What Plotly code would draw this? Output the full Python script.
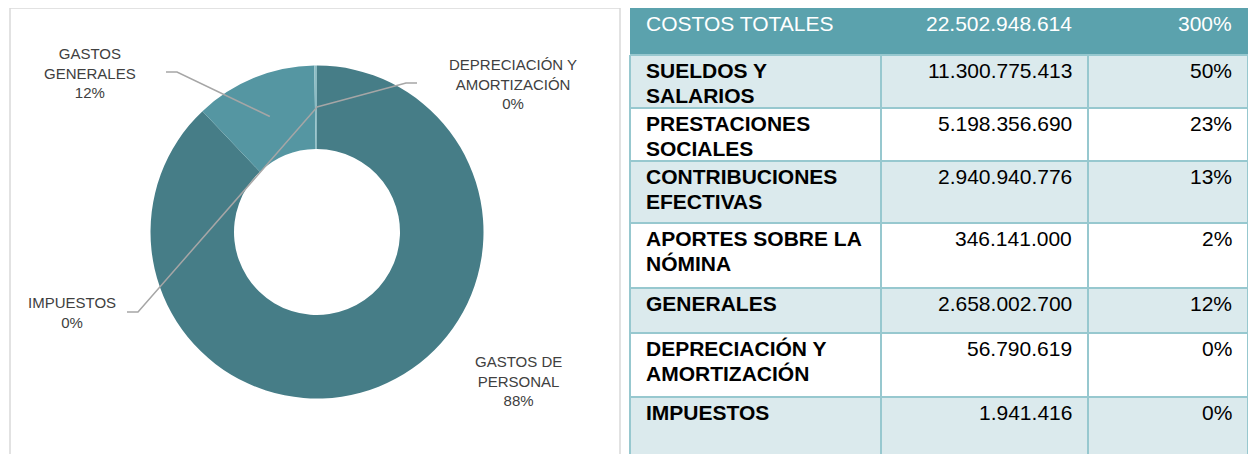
import math
import plotly.graph_objects as go

# ---------------- data ----------------
table_labels = ["SUELDOS Y<br>SALARIOS", "PRESTACIONES<br>SOCIALES", "CONTRIBUCIONES<br>EFECTIVAS",
                "APORTES SOBRE LA<br>NÓMINA", "GENERALES", "DEPRECIACIÓN Y<br>AMORTIZACIÓN", "IMPUESTOS"]
table_values = [11300775413, 5198356690, 2940940776, 346141000, 2658002700, 56790619, 1941416]
header_label = "COSTOS TOTALES"
header_pct = "300%"

pie_labels = ["GASTOS DE<br>PERSONAL", "GASTOS<br>GENERALES", "DEPRECIACIÓN Y<br>AMORTIZACIÓN", "IMPUESTOS"]
pie_values = [sum(table_values[:4]), table_values[4], table_values[5], table_values[6]]

# ---------------- style / layout ----------------
W, H = 1256, 454
OFF = 8  # default page body margin
FW, FH = W - OFF, H - OFF
FONT = "Liberation Sans, Arial, sans-serif"
pie_colors = ["#467d87", "#5596a2", "#8dbdc5", "#3d7079"]
label_centers = [(518, 381), (90, 73), (513, 84), (72, 312)]
label_elbows = [None, ((166, 72), (177, 72)), ((417, 83), (406, 83)), ((127, 312), (138, 312))]
cx, cy, R_out, R_in = 317, 232, 166.5, 83

col_x = [630, 881, 1088, 1248]
row_h = [47, 53, 53, 62, 65, 45, 64, 66]
top = 8
hdr_bg = "#5ba2ad"
light_bg = "#dbeaed"
border = "#97c8cf"
TFS = 21      # table font size
PITCH = 25    # table line pitch


def px(x):
    return (x - OFF) / FW


def py(y):
    return 1 - (y - OFF) / FH


def fmt(v):
    return f"{v:,}".replace(",", ".")


total = sum(table_values)

fig = go.Figure()
fig.add_trace(go.Pie(
    labels=[l.replace("<br>", " ") for l in pie_labels], values=pie_values,
    hole=R_in / R_out, sort=False, direction="clockwise", rotation=0,
    textinfo="none", showlegend=False,
    marker=dict(colors=pie_colors, line=dict(width=0)),
    domain=dict(x=[px(cx - R_out), px(cx + R_out)], y=[py(cy + R_out), py(cy - R_out)]),
))

shapes = []
annotations = []

# chart box
shapes.append(dict(type="rect", xref="paper", yref="paper", x0=px(10), x1=px(620), y0=py(470), y1=py(8),
                   line=dict(color="#d9d9d9", width=1.5), fillcolor="rgba(0,0,0,0)", layer="below"))

# pie labels + leader lines
pie_total = sum(pie_values)
cum = 0
r_mid = (R_out + R_in) / 2
for i, (lab, val) in enumerate(zip(pie_labels, pie_values)):
    frac_mid = (cum + val / 2) / pie_total
    cum += val
    pct = round(val / pie_total * 100)
    lx, ly = label_centers[i]
    annotations.append(dict(x=px(lx), y=py(ly), xref="paper", yref="paper", showarrow=False,
                            text=f"{lab}<br>{pct}%", align="center", xanchor="center", yanchor="middle",
                            font=dict(family=FONT, size=15, color="#404040")))
    if label_elbows[i] is not None:
        th = 2 * math.pi * frac_mid
        ax = cx + r_mid * math.sin(th)
        ay = cy - r_mid * math.cos(th)
        (x0, y0), (x1, y1) = label_elbows[i]
        path = f"M {px(x0)},{py(y0)} L {px(x1)},{py(y1)} L {px(ax)},{py(ay)}"
        shapes.append(dict(type="path", xref="paper", yref="paper", path=path,
                           line=dict(color="#a6a6a6", width=1.5)))

# table
edges = [top]
for h in row_h:
    edges.append(edges[-1] + h)

shapes.append(dict(type="rect", xref="paper", yref="paper", x0=px(col_x[0]), x1=px(col_x[-1]),
                   y0=py(edges[1]), y1=py(edges[0]), fillcolor=hdr_bg, line=dict(width=0), layer="below"))
for r in range(len(table_labels)):
    if r % 2 == 0:
        shapes.append(dict(type="rect", xref="paper", yref="paper", x0=px(col_x[0]), x1=px(col_x[-1]),
                           y0=py(edges[r + 2]), y1=py(edges[r + 1]), fillcolor=light_bg,
                           line=dict(width=0), layer="below"))
for e in edges[1:-1]:
    shapes.append(dict(type="line", xref="paper", yref="paper", x0=px(col_x[0]), x1=px(col_x[-1]),
                       y0=py(e), y1=py(e), line=dict(color=border, width=2)))
for xv in col_x:
    shapes.append(dict(type="line", xref="paper", yref="paper", x0=px(xv), x1=px(xv),
                       y0=py(edges[-1]), y1=py(edges[1]), line=dict(color=border, width=2)))


def cell_text(text, x, y, anchor, color, bold=False):
    for k, line in enumerate(text.split("<br>")):
        annotations.append(dict(x=px(x), y=py(y + k * PITCH), xref="paper", yref="paper", showarrow=False,
                                text=f"<b>{line}</b>" if bold else line, align=anchor, xanchor=anchor,
                                yanchor="top", font=dict(family=FONT, size=TFS, color=color)))


TXT_OFF = 2
cell_text(header_label, 644, edges[0] + TXT_OFF, "left", "white")
cell_text(fmt(total), 1074, edges[0] + TXT_OFF, "right", "white")
cell_text(header_pct, 1234, edges[0] + TXT_OFF, "right", "white")
for r, (lab, val) in enumerate(zip(table_labels, table_values)):
    yt = edges[r + 1] + TXT_OFF
    cell_text(lab, 644, yt, "left", "black", bold=True)
    cell_text(fmt(val), 1074, yt, "right", "black")
    cell_text(f"{round(val / total * 100)}%", 1234, yt, "right", "black")

fig.update_layout(width=FW, height=FH, margin=dict(l=0, r=0, t=0, b=0),
                  paper_bgcolor="white", plot_bgcolor="white",
                  shapes=shapes, annotations=annotations)
fig.write_html("out.html")
